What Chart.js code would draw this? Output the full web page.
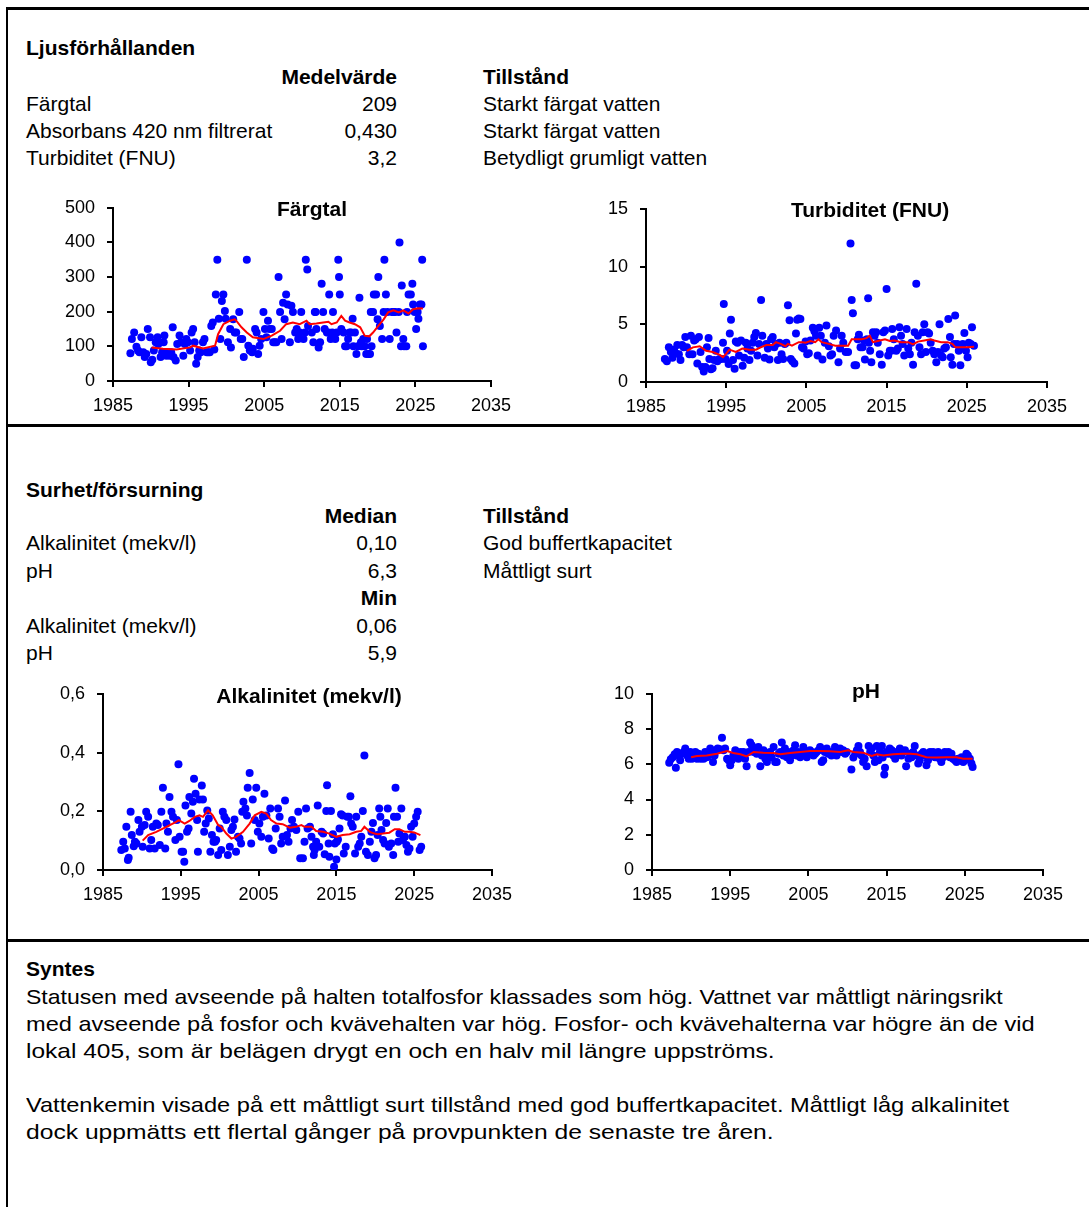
<!DOCTYPE html>
<html>
<head>
<meta charset="utf-8">
<script src="https://cdn.jsdelivr.net/npm/chart.js@4.4.1/dist/chart.umd.min.js"></script>
<style>
    body { margin: 0; background: #fff; }
    #page { position: relative; width: 1089px; height: 1207px; overflow: hidden; font-family: "Liberation Sans", Arial, sans-serif; font-size: 21px; color: #000; }
    .frame { position: absolute; left: 6px; top: 7px; width: 1100px; height: 1220px; border-left: 2px solid #000; border-top: 3px solid #000; }
    .hr { position: absolute; left: 6px; width: 1100px; height: 3px; background: #000; }
    .t { position: absolute; line-height: 24px; white-space: nowrap; }
    .b { font-weight: bold; }
    .r { text-align: right; width: 300px; }
    .wide { transform-origin: left center; }
    canvas { position: absolute; }
</style>
</head>
<body>
<div id="page">
    <div class="frame"></div>
    <div class="hr" style="top: 424px;"></div>
    <div class="hr" style="top: 939px;"></div>

    <div class="t b" style="left:26px; top:36px;">Ljusförhållanden</div>
    <div class="t b r" style="left:97px; top:65px;">Medelvärde</div>
    <div class="t b" style="left:483px; top:65px;">Tillstånd</div>
    <div class="t" style="left:26px; top:92px;">Färgtal</div>
    <div class="t r" style="left:97px; top:92px;">209</div>
    <div class="t" style="left:483px; top:92px;">Starkt färgat vatten</div>
    <div class="t" style="left:26px; top:119px;">Absorbans 420 nm filtrerat</div>
    <div class="t r" style="left:97px; top:119px;">0,430</div>
    <div class="t" style="left:483px; top:119px;">Starkt färgat vatten</div>
    <div class="t" style="left:26px; top:146px;">Turbiditet (FNU)</div>
    <div class="t r" style="left:97px; top:146px;">3,2</div>
    <div class="t" style="left:483px; top:146px;">Betydligt grumligt vatten</div>

    <div class="t b" style="left:26px; top:478px;">Surhet/försurning</div>
    <div class="t b r" style="left:97px; top:504px;">Median</div>
    <div class="t b" style="left:483px; top:504px;">Tillstånd</div>
    <div class="t" style="left:26px; top:531px;">Alkalinitet (mekv/l)</div>
    <div class="t r" style="left:97px; top:531px;">0,10</div>
    <div class="t" style="left:483px; top:531px;">God buffertkapacitet</div>
    <div class="t" style="left:26px; top:559px;">pH</div>
    <div class="t r" style="left:97px; top:559px;">6,3</div>
    <div class="t" style="left:483px; top:559px;">Måttligt surt</div>
    <div class="t b r" style="left:97px; top:586px;">Min</div>
    <div class="t" style="left:26px; top:614px;">Alkalinitet (mekv/l)</div>
    <div class="t r" style="left:97px; top:614px;">0,06</div>
    <div class="t" style="left:26px; top:641px;">pH</div>
    <div class="t r" style="left:97px; top:641px;">5,9</div>

    <div class="t b" style="left:26px; top:957px;">Syntes</div>
    <div class="t wide" style="left:26px; top:985px; transform:scaleX(1.097);">Statusen med avseende på halten totalfosfor klassades som hög. Vattnet var måttligt näringsrikt</div>
    <div class="t wide" style="left:26px; top:1012px; transform:scaleX(1.122);">med avseende på fosfor och kvävehalten var hög. Fosfor- och kvävehalterna var högre än de vid</div>
    <div class="t wide" style="left:26px; top:1039px; transform:scaleX(1.166);">lokal 405, som är belägen drygt en och en halv mil längre uppströms.</div>
    <div class="t wide" style="left:26px; top:1093px; transform:scaleX(1.124);">Vattenkemin visade på ett måttligt surt tillstånd med god buffertkapacitet. Måttligt låg alkalinitet</div>
    <div class="t wide" style="left:26px; top:1120px; transform:scaleX(1.173);">dock uppmätts ett flertal gånger på provpunkten de senaste tre åren.</div>

    <canvas id="fargtalChart" width="489" height="230" style="left:30px; top:185px;"></canvas>
    <canvas id="turbChart" width="512" height="230" style="left:563px; top:186px;"></canvas>
    <canvas id="alkChart" width="500" height="233" style="left:20px; top:671px;"></canvas>
    <canvas id="phChart" width="502" height="233" style="left:569px; top:671px;"></canvas>
</div>

<script>
// x-axel (år)
const yearTicks = [1985, 1995, 2005, 2015, 2025, 2035];

// Färgtal: mätpunkter [år, värde] och glidande medelvärde
const fargtalPoints = [
    [1987.3,80],[1987.5,121],[1987.8,140],[1988.1,99],[1988.3,88],[1988.5,83],[1988.75,126],[1989,83],[1989.2,69],[1989.4,78],
    [1989.6,150],[1989.9,126],[1990,54],[1990.2,61],[1990.4,88],[1990.65,112],[1990.9,126],[1991,107],[1991.3,69],[1991.5,83],
    [1991.7,112],[1991.8,131],[1992.05,73],[1992.3,83],[1992.5,73],[1992.7,83],[1992.9,155],[1993,69],[1993.3,59],[1993.5,107],
    [1993.8,131],[1994,112],[1994.3,73],[1994.5,107],[1994.7,121],[1994.9,112],[1995.2,88],[1995.4,140],[1995.6,150],[1995.8,112],
    [1996,50],[1996.2,69],[1996.4,88],[1996.6,83],[1996.9,112],[1997.1,121],[1997.4,83],[1997.6,83],[1997.8,83],[1998,159],
    [1998.2,169],[1998.4,91],[1998.6,250],[1998.8,350],[1999,180],[1999.2,121],[1999.4,231],[1999.6,250],[1999.8,202],[1999.9,180],
    [2000.2,112],[2000.5,150],[2000.6,97],[2000.9,178],[2001.1,140],[2001.3,140],[2001.7,199],[2001.9,121],[2002.1,121],[2002.3,69],
    [2002.7,350],[2002.9,102],[2003.1,88],[2003.4,83],[2003.5,93],[2003.8,150],[2004,140],[2004.2,78],[2004.4,102],[2004.6,121],
    [2004.9,199],[2005.1,150],[2005.3,126],[2005.5,174],[2005.7,150],[2006,150],[2006.2,112],[2006.4,112],[2006.6,112],[2006.9,300],
    [2007.1,199],[2007.3,121],[2007.5,226],[2007.7,178],[2007.9,250],[2008.1,221],[2008.4,112],[2008.6,217],[2008.8,199],[2009.1,140],
    [2009.3,150],[2009.5,121],[2009.7,140],[2009.9,199],[2010.2,121],[2010.4,140],[2010.5,350],[2010.7,322],[2010.8,159],[2011.3,140],
    [2011.5,112],[2011.7,199],[2011.8,199],[2011.9,150],[2012.2,97],[2012.4,112],[2012.6,281],[2012.8,199],[2013,150],[2013.3,140],
    [2013.5,140],[2013.6,250],[2013.8,121],[2014,140],[2014.1,199],[2014.4,121],[2014.6,140],[2014.8,350],[2014.9,300],[2015,250],
    [2015.2,150],[2015.5,140],[2015.7,100],[2015.9,100],[2016.1,121],[2016.3,140],[2016.5,140],[2016.7,180],[2016.8,100],[2017,140],
    [2017.2,78],[2017.4,100],[2017.6,240],[2017.8,112],[2017.9,100],[2018.1,121],[2018.3,100],[2018.5,78],[2018.6,121],[2018.8,78],
    [2019,78],[2019.1,199],[2019.2,100],[2019.4,199],[2019.5,250],[2019.8,250],[2020,178],[2020.1,300],[2020.3,159],[2020.6,121],
    [2020.8,199],[2020.9,350],[2021.1,250],[2021.3,199],[2021.6,121],[2021.9,199],[2022.1,199],[2022.3,199],[2022.5,140],[2022.8,199],
    [2022.9,400],[2023.1,100],[2023.2,276],[2023.4,121],[2023.5,100],[2023.8,100],[2023.9,199],[2024.1,250],[2024.4,250],[2024.6,281],
    [2024.7,221],[2024.9,199],[2025.1,150],[2025.3,199],[2025.4,180],[2025.6,221],[2025.8,221],[2025.9,350],[2026,100]
];
const fargtalTrend = [
    [1990.1,97],[1991.6,93],[1993.4,91],[1995.2,97],[1995.6,102],[1996.9,94],[1998.5,102],[1998.9,135],[1999.6,164],[2000.5,174],
    [2001.1,178],[2001.3,174],[2002,155],[2002.7,140],[2003.5,126],[2004.9,121],[2006,131],[2007.1,145],[2007.9,164],[2008.8,169],
    [2009.7,164],[2010.6,174],[2011,164],[2011.9,166],[2012.8,169],[2013.5,171],[2013.9,164],[2014.6,169],[2015.2,188],[2015.7,174],
    [2016.3,169],[2017,164],[2017.7,155],[2018.3,131],[2018.9,129],[2019.4,140],[2020.1,159],[2020.8,178],[2021.4,198],[2022.1,204],
    [2022.8,198],[2023.4,204],[2024.1,195],[2024.7,207],[2025.4,210],[2026,209]
];

// Turbiditet (FNU)
const turbPoints = [
    [1987.35,2.0],[1987.6,1.8],[1987.85,3.0],[1988.1,2.6],[1988.3,2.1],[1988.5,2.8],[1988.7,2.5],[1988.9,3.2],[1989.1,2.4],[1989.3,1.9],
    [1989.5,3.2],[1989.7,3.0],[1989.9,3.9],[1990.1,3.0],[1990.4,2.4],[1990.6,4.0],[1990.8,2.4],[1991,3.6],[1991.2,3.7],[1991.4,1.6],
    [1991.6,3.9],[1991.8,2.6],[1992,1.3],[1992.2,0.9],[1992.4,1.3],[1992.6,3.0],[1992.8,3.8],[1992.9,2.0],[1993.1,1.1],[1993.3,1.2],
    [1993.5,1.9],[1993.7,2.7],[1993.9,1.8],[1994.15,2.0],[1994.4,2.0],[1994.6,3.4],[1994.7,6.75],[1994.9,2.0],[1995.1,2.7],[1995.3,1.55],
    [1995.45,4.2],[1995.6,5.4],[1995.85,1.9],[1996.05,1.15],[1996.2,3.5],[1996.4,3.4],[1996.6,2.3],[1996.85,3.6],[1997.05,1.4],[1997.25,2.1],
    [1997.45,3.4],[1997.65,2.9],[1997.9,1.9],[1998.1,2.7],[1998.3,3.4],[1998.5,3.9],[1998.7,4.25],[1998.9,2.3],[1999.1,3.3],[1999.35,7.1],
    [1999.5,4.0],[1999.8,2.1],[2000,3.3],[2000.2,2.9],[2000.4,1.95],[2000.6,3.7],[2000.8,3.9],[2001,3.0],[2001.2,3.3],[2001.45,1.9],
    [2001.65,3.4],[2001.9,2.4],[2002.1,2.0],[2002.3,3.3],[2002.5,3.4],[2002.7,6.65],[2002.9,5.35],[2003.05,2.0],[2003.25,1.8],[2003.5,1.6],
    [2003.7,4.2],[2003.85,5.4],[2004.05,5.5],[2004.25,5.45],[2004.45,3.0],[2004.65,2.9],[2004.9,3.5],[2005.1,2.4],[2005.3,2.5],[2005.5,3.6],
    [2005.8,4.7],[2006,4.4],[2006.2,4.0],[2006.4,2.3],[2006.6,4.7],[2006.8,4.0],[2007,1.95],[2007.3,3.4],[2007.5,4.9],[2007.8,3.1],
    [2008,2.3],[2008.2,2.4],[2008.4,4.0],[2008.7,4.45],[2009,1.7],[2009.2,2.9],[2009.4,4.0],[2009.6,3.4],[2009.9,2.6],[2010.2,2.6],
    [2010.5,12.0],[2010.65,7.1],[2010.8,5.95],[2011,1.45],[2011.2,1.45],[2011.4,3.7],[2011.55,4.1],[2011.75,3.0],[2012,3.0],[2012.2,3.6],
    [2012.3,1.95],[2012.55,3.7],[2012.7,7.25],[2012.8,3.4],[2012.95,2.7],[2013.1,1.7],[2013.3,4.3],[2013.5,4.0],[2013.7,4.3],[2013.9,3.4],
    [2014.15,2.4],[2014.4,1.5],[2014.6,4.3],[2014.8,4.45],[2015,8.05],[2015.2,2.3],[2015.4,2.7],[2015.6,2.7],[2015.7,4.6],[2015.9,3.7],
    [2016.2,2.7],[2016.4,2.9],[2016.6,4.75],[2016.8,4.0],[2017,3.3],[2017.2,2.3],[2017.5,4.6],[2017.7,2.9],[2017.9,2.4],[2018.1,3.4],
    [2018.3,1.5],[2018.5,4.3],[2018.7,8.5],[2018.9,4.0],[2019.1,3.0],[2019.3,2.4],[2019.5,4.3],[2019.7,5.0],[2019.9,2.6],[2020.1,4.3],
    [2020.3,4.2],[2020.5,3.4],[2020.75,2.7],[2020.95,2.4],[2021.2,1.7],[2021.4,2.6],[2021.6,5.0],[2021.8,2.3],[2022,2.15],[2022.2,2.9],
    [2022.4,3.0],[2022.7,5.45],[2022.9,3.9],[2023,2.15],[2023.2,1.5],[2023.4,3.3],[2023.55,5.75],[2023.8,3.3],[2024,2.7],[2024.2,1.45],
    [2024.35,2.9],[2024.5,3.3],[2024.7,4.25],[2024.9,2.7],[2025.1,2.15],[2025.25,3.4],[2025.5,3.3],[2025.65,4.75],[2025.9,3.15]
];
const turbTrend = [
    [1990.1,2.7],[1990.85,3.0],[1991.7,3.1],[1992.5,2.7],[1993.3,2.6],[1994.2,2.35],[1994.6,2.15],[1995,2.45],[1995.4,2.8],[1996.2,2.6],
    [1997,2.9],[1997.9,2.8],[1998.7,2.8],[1999.3,3.0],[2000,3.2],[2000.8,3.2],[2001.2,3.45],[2001.8,3.3],[2002.4,3.1],[2002.7,3.3],
    [2003.2,3.15],[2004.05,3.45],[2004.5,3.45],[2004.9,3.4],[2005.5,3.55],[2006.1,3.45],[2006.5,3.7],[2006.9,3.45],[2007.8,3.3],[2008.6,3.15],
    [2009.4,3.15],[2010.2,3.15],[2010.65,3.7],[2011.3,3.7],[2011.9,3.7],[2012.5,3.8],[2012.9,4.0],[2013.3,3.45],[2013.9,3.55],[2014.8,3.7],
    [2015.4,3.55],[2016,3.6],[2016.8,3.45],[2017.7,3.45],[2018.3,3.25],[2018.9,3.5],[2019.7,3.6],[2020.5,3.7],[2020.95,3.6],[2021.8,3.45],
    [2022.6,3.45],[2023.2,3.3],[2023.6,3.0],[2024.3,3.0],[2025.1,3.0],[2025.9,3.05]
];

// Alkalinitet (mekv/l)
const alkPoints = [
    [1987.35,0.068],[1987.6,0.096],[1987.8,0.073],[1988,0.147],[1988.2,0.034],[1988.3,0.042],[1988.55,0.198],[1988.7,0.119],[1988.95,0.081],[1989.1,0.096],
    [1989.3,0.09],[1989.55,0.17],[1989.7,0.13],[1990,0.147],[1990.1,0.079],[1990.35,0.153],[1990.55,0.198],[1990.8,0.181],[1991,0.073],[1991.2,0.102],
    [1991.4,0.147],[1991.65,0.073],[1991.85,0.158],[1992.05,0.153],[1992.3,0.085],[1992.5,0.198],[1992.7,0.28],[1993,0.073],[1993.15,0.158],[1993.35,0.13],
    [1993.55,0.249],[1993.8,0.198],[1994,0.181],[1994.3,0.102],[1994.5,0.17],[1994.7,0.36],[1994.85,0.113],[1995.1,0.062],[1995.3,0.062],[1995.45,0.028],
    [1995.6,0.22],[1995.8,0.13],[1996,0.141],[1996.1,0.249],[1996.35,0.192],[1996.55,0.232],[1996.7,0.311],[1996.9,0.26],[1997.1,0.17],[1997.2,0.062],
    [1997.4,0.24],[1997.7,0.288],[1997.85,0.24],[1998,0.13],[1998.2,0.158],[1998.4,0.203],[1998.6,0.175],[1998.8,0.062],[1999,0.119],[1999.2,0.096],
    [1999.4,0.096],[1999.55,0.102],[1999.8,0.051],[2000,0.141],[2000.2,0.068],[2000.4,0.198],[2000.6,0.181],[2000.85,0.17],[2001.05,0.051],[2001.3,0.079],
    [2001.5,0.136],[2001.7,0.147],[2001.9,0.172],[2002.1,0.062],[2002.35,0.113],[2002.55,0.107],[2002.75,0.09],[2002.9,0.198],[2003.05,0.232],[2003.3,0.209],
    [2003.5,0.186],[2003.6,0.28],[2003.85,0.33],[2004.05,0.09],[2004.25,0.24],[2004.5,0.17],[2004.7,0.28],[2004.9,0.13],[2005.1,0.158],[2005.35,0.113],
    [2005.55,0.181],[2005.75,0.26],[2006,0.186],[2006.3,0.107],[2006.5,0.209],[2006.75,0.073],[2006.9,0.068],[2007.2,0.141],[2007.5,0.209],[2007.7,0.181],
    [2007.9,0.09],[2008.1,0.113],[2008.4,0.237],[2008.65,0.119],[2008.85,0.096],[2009.1,0.141],[2009.3,0.17],[2009.55,0.147],[2009.85,0.136],[2010.1,0.198],
    [2010.35,0.04],[2010.7,0.04],[2010.9,0.096],[2011.1,0.209],[2011.3,0.141],[2011.6,0.147],[2011.8,0.113],[2012,0.079],[2012.1,0.051],[2012.2,0.068],
    [2012.4,0.096],[2012.6,0.22],[2012.8,0.079],[2013.1,0.13],[2013.3,0.124],[2013.5,0.054],[2013.7,0.201],[2013.8,0.289],[2014,0.09],[2014.1,0.045],
    [2014.3,0.201],[2014.55,0.122],[2014.7,0.011],[2014.8,0.09],[2015,0.036],[2015.05,0.096],[2015.2,0.104],[2015.4,0.141],[2015.6,0.19],[2015.8,0.186],
    [2015.95,0.056],[2016.2,0.079],[2016.4,0.181],[2016.6,0.181],[2016.8,0.251],[2016.9,0.158],[2017.1,0.147],[2017.4,0.056],[2017.55,0.181],[2017.8,0.079],
    [2018,0.09],[2018.2,0.113],[2018.4,0.201],[2018.6,0.39],[2018.8,0.062],[2019.05,0.051],[2019.3,0.096],[2019.5,0.13],[2019.7,0.16],[2019.9,0.04],
    [2020.1,0.051],[2020.3,0.119],[2020.5,0.209],[2020.65,0.181],[2020.8,0.136],[2021,0.102],[2021.2,0.09],[2021.4,0.16],[2021.6,0.209],[2021.75,0.079],
    [2022.05,0.09],[2022.3,0.051],[2022.4,0.181],[2022.6,0.28],[2022.8,0.181],[2022.95,0.096],[2023.1,0.124],[2023.35,0.209],[2023.55,0.102],[2023.8,0.113],
    [2024,0.085],[2024.2,0.062],[2024.4,0.073],[2024.6,0.147],[2024.8,0.113],[2025,0.158],[2025.25,0.181],[2025.45,0.198],[2025.7,0.068],[2025.9,0.079]
];
const alkTrend = [
    [1990.1,0.1],[1990.8,0.119],[1991.85,0.13],[1993.15,0.147],[1994.4,0.164],[1994.75,0.17],[1995.5,0.158],[1996.1,0.167],[1996.8,0.181],[1997.4,0.186],
    [1997.85,0.181],[1998.5,0.203],[1999.1,0.186],[1999.8,0.153],[2000.2,0.147],[2000.85,0.124],[2001.5,0.107],[2002.1,0.113],[2003,0.13],[2003.85,0.158],
    [2004.5,0.186],[2005.35,0.198],[2006,0.192],[2006.6,0.17],[2007.3,0.158],[2008.1,0.156],[2009,0.144],[2009.8,0.147],[2010.5,0.153],[2010.9,0.147],
    [2011.8,0.147],[2012.4,0.133],[2013.3,0.13],[2014.1,0.124],[2015,0.113],[2015.8,0.119],[2016.7,0.122],[2017.55,0.13],[2018.2,0.133],[2018.6,0.147],
    [2019.3,0.13],[2019.9,0.124],[2020.3,0.122],[2021,0.124],[2021.8,0.127],[2022.5,0.139],[2023.1,0.139],[2023.8,0.13],[2024.4,0.13],[2025,0.128],
    [2025.8,0.119]
];

// pH
const phPoints = [
    [1987.2,6.09],[1987.4,6.28],[1987.65,6.4],[1987.9,6.57],[1988.05,5.81],[1988.2,6.7],[1988.4,6.5],[1988.6,6.23],[1988.8,6.6],[1989.05,6.7],
    [1989.25,6.89],[1989.5,6.5],[1989.7,6.32],[1989.9,6.7],[1990.1,6.32],[1990.3,6.5],[1990.55,6.7],[1990.75,6.32],[1990.95,6.6],[1991.2,6.32],
    [1991.4,6.5],[1991.6,6.32],[1991.8,6.7],[1992,6.4],[1992.2,6.5],[1992.45,6.89],[1992.65,6.7],[1992.8,6.13],[1993,6.5],[1993.2,6.79],
    [1993.4,6.89],[1993.7,6.85],[1993.95,7.5],[1994.15,6.79],[1994.35,6.89],[1994.6,6.32],[1994.8,6.23],[1995,5.94],[1995.2,6.23],[1995.4,6.5],
    [1995.65,6.79],[1995.85,6.6],[1996.05,6.32],[1996.3,6.7],[1996.5,6.5],[1996.7,6.7],[1996.9,6.32],[1997.1,5.89],[1997.35,6.7],[1997.55,7.23],
    [1997.75,7.08],[1998,6.7],[1998.2,6.89],[1998.4,6.6],[1998.6,6.98],[1998.85,5.89],[1999.05,6.5],[1999.25,6.79],[1999.5,6.32],[1999.7,6.13],
    [1999.9,6.5],[2000.1,6.7],[2000.3,6.4],[2000.55,6.98],[2000.75,6.13],[2000.95,6.13],[2001.2,6.6],[2001.4,6.7],[2001.6,7.23],[2001.8,6.5],
    [2002,6.89],[2002.25,6.4],[2002.45,6.7],[2002.65,6.23],[2002.85,6.5],[2003.1,6.79],[2003.3,7.08],[2003.5,6.5],[2003.7,6.7],[2003.95,6.4],
    [2004.15,6.6],[2004.35,6.98],[2004.6,6.7],[2004.8,6.4],[2005,6.6],[2005.2,6.79],[2005.4,6.7],[2005.65,6.5],[2005.85,6.6],[2006.05,6.7],
    [2006.3,6.79],[2006.5,6.98],[2006.7,6.13],[2006.9,6.23],[2007.1,6.7],[2007.35,6.89],[2007.55,6.6],[2007.75,6.7],[2007.95,6.5],[2008.2,6.7],
    [2008.4,6.98],[2008.6,6.5],[2008.8,6.79],[2009.05,6.89],[2009.25,6.7],[2009.45,6.79],[2009.7,6.6],[2009.9,6.7],[2010.5,5.7],[2010.75,6.38],
    [2011,6.6],[2011.2,6.79],[2011.4,7.04],[2011.6,6.7],[2011.8,6.5],[2012,6.13],[2012.2,6.32],[2012.45,5.89],[2012.7,7.04],[2012.9,6.7],
    [2013.1,6.89],[2013.3,6.5],[2013.5,6.13],[2013.75,7.04],[2013.95,6.23],[2014.15,6.7],[2014.4,7.04],[2014.5,6.38],[2014.7,5.42],[2014.8,5.81],
    [2015,6.7],[2015.2,6.6],[2015.4,6.89],[2015.65,6.79],[2015.85,6.5],[2016.1,6.32],[2016.3,6.7],[2016.5,6.6],[2016.7,6.89],[2016.9,6.5],
    [2017.1,6.7],[2017.35,6.79],[2017.5,5.89],[2017.8,6.32],[2018,6.6],[2018.2,6.4],[2018.4,6.7],[2018.6,7.04],[2018.85,6.5],[2019.05,6.04],
    [2019.25,6.23],[2019.5,6.6],[2019.7,6.7],[2019.9,6.5],[2020.1,5.94],[2020.3,6.23],[2020.55,6.7],[2020.75,6.5],[2020.95,6.7],[2021.2,6.4],
    [2021.4,6.6],[2021.6,6.7],[2021.8,6.32],[2022,6.13],[2022.25,6.4],[2022.45,6.7],[2022.65,6.6],[2022.9,6.7],[2023.1,6.4],[2023.3,6.6],
    [2023.5,6.32],[2023.75,6.23],[2023.95,6.13],[2024.15,6.32],[2024.4,6.23],[2024.6,6.4],[2024.8,6.13],[2025,6.23],[2025.2,6.6],[2025.4,6.5],
    [2025.65,6.32],[2025.85,6.04],[2026,5.85]
];
const phTrend = [
    [1990,6.4],[1990.75,6.47],[1992,6.5],[1993.3,6.6],[1994.6,6.75],[1995.4,6.64],[1996.3,6.57],[1997.1,6.45],[1998,6.7],[1999.25,6.66],
    [2000.55,6.64],[2001.4,6.57],[2002.65,6.64],[2003.95,6.7],[2005.2,6.75],[2006.5,6.75],[2007.75,6.74],[2009.05,6.7],[2010.1,6.79],[2010.75,6.7],
    [2012,6.66],[2013.1,6.47],[2013.75,6.57],[2014.6,6.5],[2015.85,6.57],[2017.1,6.6],[2018,6.6],[2018.85,6.57],[2020.1,6.4],[2021.4,6.38],
    [2022.65,6.4],[2023.95,6.4],[2024.8,6.32],[2026,6.32]
];

const FONT = '"Liberation Sans", Arial, sans-serif';

// rubrik inne i diagrammet
const titlePlugin = {
    id: 'chartTitle',
    afterDraw(chart, args, opts) {
        const ctx = chart.ctx;
        ctx.save();
        ctx.font = 'bold 21px ' + FONT;
        ctx.fillStyle = '#000';
        ctx.textAlign = 'center';
        ctx.textBaseline = 'middle';
        ctx.fillText(opts.text, opts.x, opts.y);
        ctx.restore();
    }
};

function toXY(pairs) {
    return pairs.map(([x, y]) => ({ x: x, y: y }));
}

function makeChart(id, points, trend, yMax, yStep, yFormat, title) {
    const ctx = document.getElementById(id);
    return new Chart(ctx, {
        type: 'scatter',
        data: {
            datasets: [
                {
                    data: toXY(trend),
                    showLine: true,
                    borderColor: '#ff0000',
                    borderWidth: 2,
                    pointRadius: 0,
                    tension: 0,
                    order: 0
                },
                {
                    data: toXY(points),
                    backgroundColor: '#0000ff',
                    borderWidth: 0,
                    pointRadius: 4,
                    order: 1
                }
            ]
        },
        options: {
            responsive: false,
            animation: false,
            events: [],
            layout: { padding: { top: 12, right: 25, left: 0, bottom: 0 } },
            plugins: {
                legend: { display: false },
                tooltip: { enabled: false },
                chartTitle: title
            },
            scales: {
                x: {
                    type: 'linear',
                    min: yearTicks[0],
                    max: yearTicks[yearTicks.length - 1],
                    afterBuildTicks: (scale) => { scale.ticks = yearTicks.map(v => ({ value: v })); },
                    afterFit: (scale) => { scale.height = 34; },
                    border: { display: true, color: '#000', width: 2 },
                    grid: { display: true, drawOnChartArea: false, drawTicks: true, tickLength: 6, color: '#000', lineWidth: 2 },
                    ticks: { color: '#000', font: { family: FONT, size: 18 }, padding: 8, maxRotation: 0, callback: v => String(v) }
                },
                y: {
                    min: 0,
                    max: yMax,
                    afterFit: (scale) => { scale.width = 83; },
                    border: { display: true, color: '#000', width: 2 },
                    grid: { display: true, drawOnChartArea: false, drawTicks: true, tickLength: 6, color: '#000', lineWidth: 2 },
                    ticks: { color: '#000', font: { family: FONT, size: 18 }, padding: 12, stepSize: yStep, callback: yFormat }
                }
            }
        },
        plugins: [titlePlugin]
    });
}

makeChart('fargtalChart', fargtalPoints, fargtalTrend, 500, 100, v => String(v),
    { text: 'Färgtal', x: 282, y: 25 });
makeChart('turbChart', turbPoints, turbTrend, 15, 5, v => String(v),
    { text: 'Turbiditet (FNU)', x: 307, y: 25 });
makeChart('alkChart', alkPoints, alkTrend, 0.6, 0.2, v => v.toFixed(1).replace('.', ','),
    { text: 'Alkalinitet (mekv/l)', x: 289, y: 26 });
makeChart('phChart', phPoints, phTrend, 10, 2, v => String(v),
    { text: 'pH', x: 297, y: 21 });
</script>
</body>
</html>
